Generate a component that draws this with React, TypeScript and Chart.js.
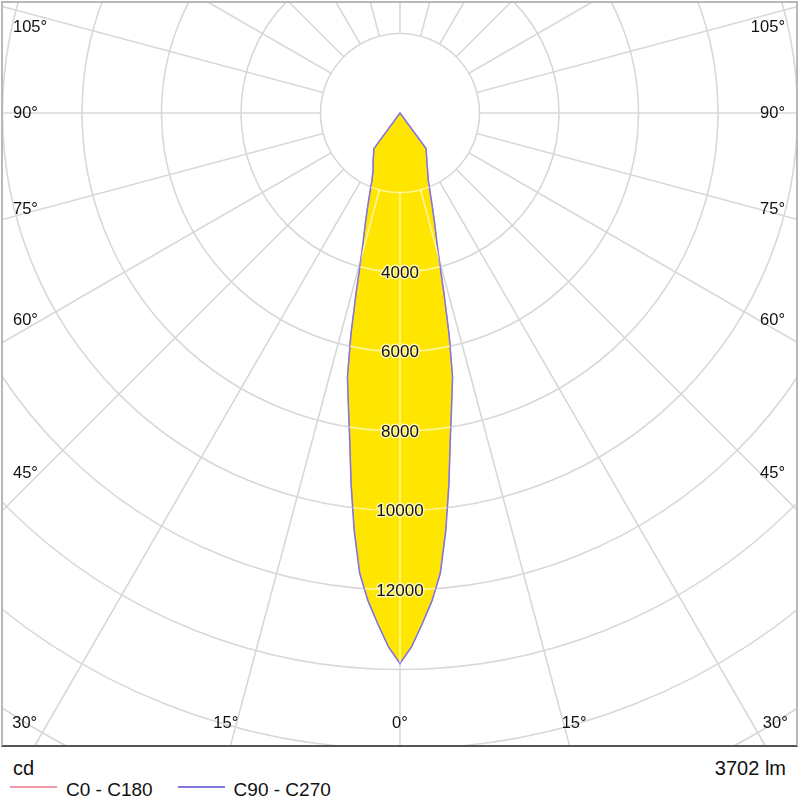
import React, { useEffect, useRef } from 'react';
import { Chart, registerables } from 'chart.js';

Chart.register(...registerables);

// ---- data ----
// luminous intensity (cd) per C-plane, gamma = 0..180 deg in 1.25 deg steps (145 values)
const ANGLE_STEP = 1.25;
const I_C0 = [
  13850, 13430, 12850, 12290, 11610, 10550, 9400, 8300, 7460, 6770, 5700, 4620, 3780, 3270, 2890,
  2560, 2280, 2060, 1870, 1750, 1650, 1560, 1480, 1410, 1350, 1290, 1240, 1190, 1150, 1110,
  0, 0, 0, 0, 0, 0, 0, 0, 0, 0, 0, 0, 0, 0, 0, 0, 0, 0, 0, 0, 0, 0, 0,
  0, 0, 0, 0, 0, 0, 0, 0, 0, 0, 0, 0, 0, 0, 0, 0, 0, 0, 0, 0, 0, 0, 0,
  0, 0, 0, 0, 0, 0, 0, 0, 0, 0, 0, 0, 0, 0, 0, 0, 0, 0, 0, 0, 0, 0, 0,
  0, 0, 0, 0, 0, 0, 0, 0, 0, 0, 0, 0, 0, 0, 0, 0, 0, 0, 0, 0, 0, 0, 0,
  0, 0, 0, 0, 0, 0, 0, 0, 0, 0, 0, 0, 0, 0, 0, 0, 0, 0, 0, 0, 0, 0, 0,
];
const I_C180 = [
  13850, 13430, 12850, 12290, 11610, 10550, 9400, 8300, 7460, 6770, 5700, 4620, 3780, 3270, 2890,
  2560, 2280, 2050, 1850, 1720, 1600, 1530, 1470, 1410, 1350, 1290, 1240, 1190, 1150, 1120,
  0, 0, 0, 0, 0, 0, 0, 0, 0, 0, 0, 0, 0, 0, 0, 0, 0, 0, 0, 0, 0, 0, 0,
  0, 0, 0, 0, 0, 0, 0, 0, 0, 0, 0, 0, 0, 0, 0, 0, 0, 0, 0, 0, 0, 0, 0,
  0, 0, 0, 0, 0, 0, 0, 0, 0, 0, 0, 0, 0, 0, 0, 0, 0, 0, 0, 0, 0, 0, 0,
  0, 0, 0, 0, 0, 0, 0, 0, 0, 0, 0, 0, 0, 0, 0, 0, 0, 0, 0, 0, 0, 0, 0,
  0, 0, 0, 0, 0, 0, 0, 0, 0, 0, 0, 0, 0, 0, 0, 0, 0, 0, 0, 0, 0, 0, 0,
];
const I_C90 = [
  13850, 13430, 12860, 12300, 11630, 10580, 9430, 8320, 7480, 6780, 5710, 4630, 3790, 3270, 2890,
  2560, 2280, 2060, 1870, 1750, 1650, 1560, 1480, 1410, 1350, 1290, 1240, 1190, 1150, 1110,
  0, 0, 0, 0, 0, 0, 0, 0, 0, 0, 0, 0, 0, 0, 0, 0, 0, 0, 0, 0, 0, 0, 0,
  0, 0, 0, 0, 0, 0, 0, 0, 0, 0, 0, 0, 0, 0, 0, 0, 0, 0, 0, 0, 0, 0, 0,
  0, 0, 0, 0, 0, 0, 0, 0, 0, 0, 0, 0, 0, 0, 0, 0, 0, 0, 0, 0, 0, 0, 0,
  0, 0, 0, 0, 0, 0, 0, 0, 0, 0, 0, 0, 0, 0, 0, 0, 0, 0, 0, 0, 0, 0, 0,
  0, 0, 0, 0, 0, 0, 0, 0, 0, 0, 0, 0, 0, 0, 0, 0, 0, 0, 0, 0, 0, 0, 0,
];
const I_C270 = [
  13850, 13430, 12860, 12300, 11630, 10580, 9430, 8320, 7480, 6780, 5710, 4630, 3790, 3270, 2890,
  2560, 2280, 2050, 1850, 1720, 1600, 1530, 1470, 1410, 1350, 1290, 1240, 1190, 1150, 1120,
  0, 0, 0, 0, 0, 0, 0, 0, 0, 0, 0, 0, 0, 0, 0, 0, 0, 0, 0, 0, 0, 0, 0,
  0, 0, 0, 0, 0, 0, 0, 0, 0, 0, 0, 0, 0, 0, 0, 0, 0, 0, 0, 0, 0, 0, 0,
  0, 0, 0, 0, 0, 0, 0, 0, 0, 0, 0, 0, 0, 0, 0, 0, 0, 0, 0, 0, 0, 0, 0,
  0, 0, 0, 0, 0, 0, 0, 0, 0, 0, 0, 0, 0, 0, 0, 0, 0, 0, 0, 0, 0, 0, 0,
  0, 0, 0, 0, 0, 0, 0, 0, 0, 0, 0, 0, 0, 0, 0, 0, 0, 0, 0, 0, 0, 0, 0,
];
const SERIES_NAMES = ['C0 - C180', 'C90 - C270'];
const SERIES_COLORS = ['#f09aa6', '#7f76de'];
const FILL_COLOR = '#ffe600';

const R_MAX = 20000;
const R_STEP = 2000;
const TICK_LABELS = [4000, 6000, 8000, 10000, 12000];
const SIDE_ANGLE_LABELS = [105, 90, 75, 60, 45];
const BOTTOM_ANGLE_LABELS = [30, 15, 0];
const GRID_ANGLE_STEP = 15;
const SPOKE_START_VALUE = 2000;
const UNIT_LABEL = 'cd';
const FLUX_LABEL = '3702 lm';

// ---- styling ----
const FONT = '"Liberation Sans", Arial, sans-serif';
const GRID_COLOR = '#d8d8d8';
const GRID_WIDTH = 1.6;
const PALE_GRID = 'rgba(255,255,255,0.6)';
const CANVAS_SIZE = 1590;
const CENTER_X = 400;
const CENTER_Y = 113;
const FRAME_INSET = 3;

const N = Math.round(360 / ANGLE_STEP);
const LABELS = Array.from({ length: N }, (_, i) => `${i * ANGLE_STEP}°`);

// index 0 points down; indices 1..N/2 run over the left half, the rest over the right half
function ring(left: number[], right: number[]) {
  return left.concat(right.slice(1, N / 2).reverse());
}

function drawSpokes(ctx: CanvasRenderingContext2D, s: any) {
  const every = Math.round(GRID_ANGLE_STEP / ANGLE_STEP);
  const d0 = s.getDistanceFromCenterForValue(SPOKE_START_VALUE);
  const d1 = s.getDistanceFromCenterForValue(R_MAX);
  for (let i = 0; i < N; i += every) {
    const a = s.getPointPosition(i, d0);
    const b = s.getPointPosition(i, d1);
    ctx.beginPath();
    ctx.moveTo(a.x, a.y);
    ctx.lineTo(b.x, b.y);
    ctx.stroke();
  }
}

const polarDecor = {
  id: 'polarDecor',
  beforeDatasetsDraw(chart: any) {
    const s = chart.scales.r;
    const ctx = chart.ctx as CanvasRenderingContext2D;
    ctx.save();
    ctx.strokeStyle = GRID_COLOR;
    ctx.lineWidth = GRID_WIDTH;
    drawSpokes(ctx, s);
    ctx.restore();
  },
  afterDatasetsDraw(chart: any) {
    const s = chart.scales.r;
    const ctx = chart.ctx as CanvasRenderingContext2D;
    const pts = chart.getDatasetMeta(0).data;
    // pale grid inside the filled curve
    ctx.save();
    ctx.beginPath();
    pts.forEach((p: any, i: number) => (i ? ctx.lineTo(p.x, p.y) : ctx.moveTo(p.x, p.y)));
    ctx.closePath();
    ctx.clip();
    ctx.strokeStyle = PALE_GRID;
    ctx.lineWidth = GRID_WIDTH;
    s.ticks.forEach((t: any) => {
      if (t.value <= 0) return;
      ctx.beginPath();
      ctx.arc(s.xCenter, s.yCenter, s.getDistanceFromCenterForValue(t.value), 0, Math.PI * 2);
      ctx.stroke();
    });
    drawSpokes(ctx, s);
    ctx.restore();

    // value labels along the 0° axis
    ctx.save();
    ctx.font = `17px ${FONT}`;
    ctx.textAlign = 'center';
    ctx.textBaseline = 'middle';
    ctx.lineJoin = 'round';
    TICK_LABELS.forEach((v) => {
      const p = s.getPointPosition(0, s.getDistanceFromCenterForValue(v));
      ctx.lineWidth = 3;
      ctx.strokeStyle = 'rgba(255,250,200,0.85)';
      ctx.strokeText(String(v), p.x, p.y + 1);
      ctx.fillStyle = '#111';
      ctx.fillText(String(v), p.x, p.y + 1);
    });
    ctx.restore();
  },
  afterDraw(chart: any) {
    const s = chart.scales.r;
    const ctx = chart.ctx as CanvasRenderingContext2D;
    const xc = s.xCenter;
    const yc = s.yCenter;
    ctx.save();
    ctx.font = `16.5px ${FONT}`;
    ctx.fillStyle = '#111';
    ctx.textBaseline = 'middle';
    SIDE_ANGLE_LABELS.forEach((g) => {
      const dy = Math.max(-86, 360 / Math.tan((g * Math.PI) / 180));
      const y = yc + (Math.abs(g - 90) < 1e-6 ? 0 : dy);
      ctx.textAlign = 'left';
      ctx.fillText(`${g}°`, xc - 387, y);
      ctx.textAlign = 'right';
      ctx.fillText(`${g}°`, xc + 385, y);
    });
    ctx.textAlign = 'center';
    BOTTOM_ANGLE_LABELS.forEach((g) => {
      const dx = 650 * Math.tan((g * Math.PI) / 180);
      const y = yc + 610;
      if (g === 0) {
        ctx.fillText(`${g}°`, xc, y);
      } else {
        ctx.fillText(`${g}°`, xc - dx, y);
        ctx.fillText(`${g}°`, xc + dx, y);
      }
    });
    ctx.restore();
  },
};

export default function App() {
  const ref = useRef<HTMLCanvasElement | null>(null);

  useEffect(() => {
    if (!ref.current) return;
    const chart = new Chart(ref.current, {
      type: 'radar',
      data: {
        labels: LABELS,
        datasets: [
          {
            label: SERIES_NAMES[0],
            data: ring(I_C180, I_C0),
            borderColor: SERIES_COLORS[0],
            backgroundColor: FILL_COLOR,
            borderWidth: 1.2,
            fill: true,
            order: 2,
          },
          {
            label: SERIES_NAMES[1],
            data: ring(I_C270, I_C90),
            borderColor: SERIES_COLORS[1],
            backgroundColor: 'transparent',
            borderWidth: 1.5,
            fill: false,
            order: 1,
          },
        ],
      },
      options: {
        responsive: false,
        animation: false,
        devicePixelRatio: 1,
        layout: { padding: 0 },
        elements: { point: { radius: 0, hoverRadius: 0 }, line: { tension: 0 } },
        plugins: { legend: { display: false }, tooltip: { enabled: false } },
        scales: {
          r: {
            min: 0,
            max: R_MAX,
            startAngle: 180,
            ticks: { display: false, stepSize: R_STEP },
            grid: { circular: true, color: GRID_COLOR, lineWidth: GRID_WIDTH },
            angleLines: { display: false },
            pointLabels: { display: false },
          },
        },
      },
      plugins: [polarDecor],
    });
    return () => chart.destroy();
  }, []);

  const half = CANVAS_SIZE / 2;
  return (
    <div
      style={{
        position: 'fixed',
        left: 0,
        top: 0,
        width: 800,
        height: 800,
        background: '#fff',
        fontFamily: FONT,
        color: '#111',
        overflow: 'hidden',
      }}
    >
      <div
        style={{
          position: 'absolute',
          left: 1,
          top: 1,
          width: 797,
          height: 746,
          boxSizing: 'border-box',
          borderTop: '2px solid #b8b8b8',
          borderLeft: '2px solid #b8b8b8',
          borderRight: '2px solid #b8b8b8',
          borderBottom: '2px solid #555',
          overflow: 'hidden',
        }}
      >
        <canvas
          ref={ref}
          width={CANVAS_SIZE}
          height={CANVAS_SIZE}
          style={{
            position: 'absolute',
            left: CENTER_X - half - FRAME_INSET,
            top: CENTER_Y - half - FRAME_INSET,
          }}
        />
      </div>
      <div style={{ position: 'absolute', left: 13, top: 758, fontSize: 20, lineHeight: '20px' }}>
        {UNIT_LABEL}
      </div>
      <div style={{ position: 'absolute', right: 14, top: 758, fontSize: 20, lineHeight: '20px' }}>
        {FLUX_LABEL}
      </div>
      <div
        style={{
          position: 'absolute',
          left: 10,
          top: 780,
          display: 'flex',
          alignItems: 'center',
          gap: 25,
          fontSize: 19,
          lineHeight: '19px',
        }}
      >
        {SERIES_NAMES.map((name, i) => (
          <div key={name} style={{ display: 'flex', alignItems: 'center' }}>
            <div
              style={{
                width: 47,
                height: 1.5,
                background: SERIES_COLORS[i],
                marginRight: 9,
                marginTop: -5,
              }}
            />
            <span>{name}</span>
          </div>
        ))}
      </div>
    </div>
  );
}
